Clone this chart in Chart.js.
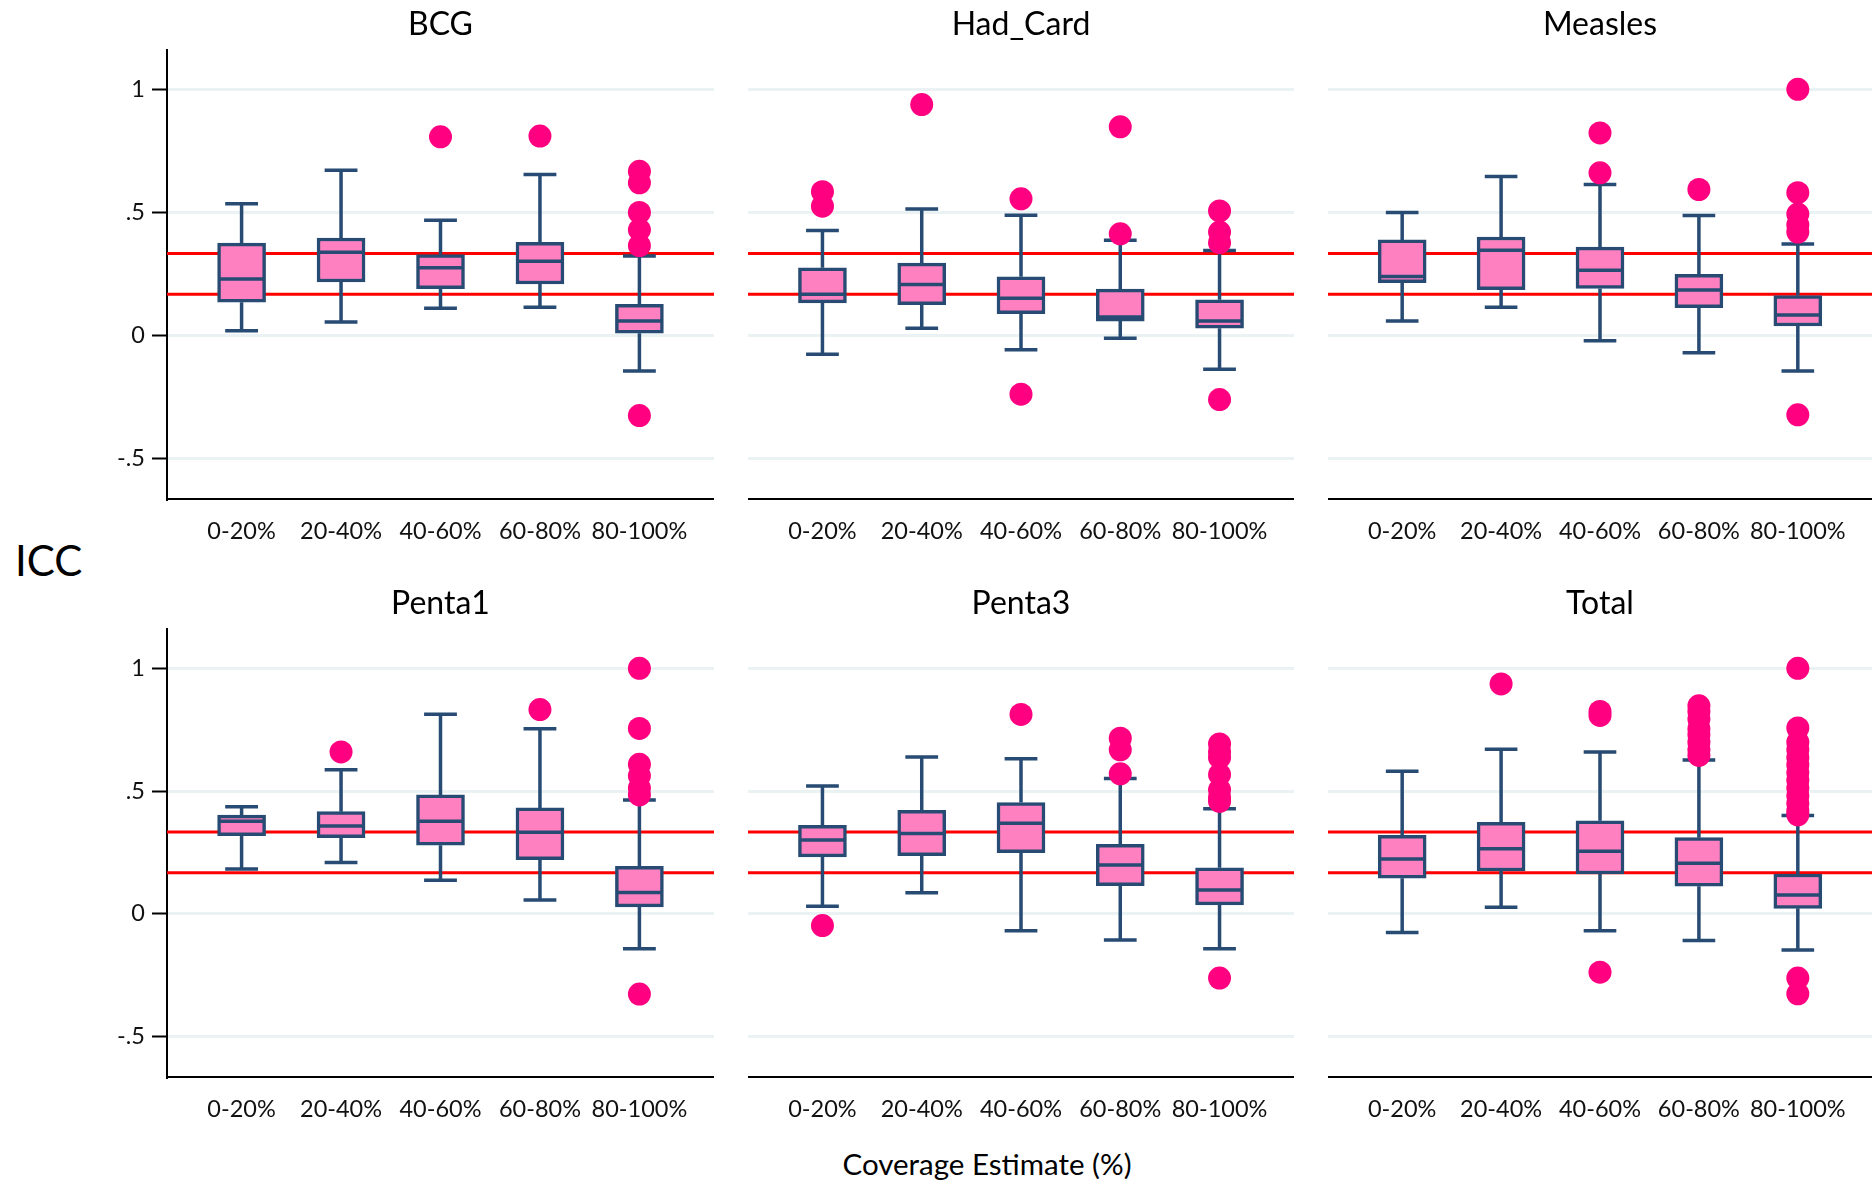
<!DOCTYPE html>
<html lang="en">
<head>
<meta charset="UTF-8" />
<title>ICC by coverage estimate</title>
<script src="https://cdn.jsdelivr.net/npm/chart.js@4.4.1/dist/chart.umd.min.js"></script>
<style>
    html, body { margin: 0; padding: 0; background: #fff; }
    body { width: 1872px; height: 1182px; position: relative; overflow: hidden; font-family: Lato, sans-serif; color: #000; }
    canvas { position: absolute; }
    .txt { position: absolute; line-height: 1; white-space: nowrap; }
    .title { font-size: 32px; transform: translateX(-50%); }
</style>
</head>
<body>
<div class="txt" style="left:15px; top:539px; font-size:42px;">ICC</div>
<div class="txt" style="left:987px; top:1149px; font-size:29.5px; transform:translateX(-50%);">Coverage Estimate (%)</div>
<script>
// ---- data ----
const categories  = ['0-20%', '20-40%', '40-60%', '60-80%', '80-100%'];
const panelTitles = ['BCG', 'Had_Card', 'Measles', 'Penta1', 'Penta3', 'Total'];
const yTicks      = [-0.5, 0, 0.5, 1];
const yTickLabels = ['-.5', '0', '.5', '1'];
const refLines    = [0.333, 0.167];

// one row per panel, one value per coverage category
const whiskerLow = [
    [0.019, 0.054, 0.11, 0.114, -0.145],
    [-0.077, 0.029, -0.058, -0.012, -0.138],
    [0.058, 0.114, -0.022, -0.071, -0.145],
    [0.182, 0.209, 0.136, 0.056, -0.143],
    [0.031, 0.086, -0.069, -0.107, -0.143],
    [-0.076, 0.026, -0.069, -0.109, -0.148]
];
const quart1 = [
    [0.135, 0.217, 0.19, 0.209, 0.009],
    [0.132, 0.125, 0.088, 0.058, 0.029],
    [0.214, 0.186, 0.191, 0.113, 0.038],
    [0.318, 0.31, 0.279, 0.22, 0.028],
    [0.232, 0.237, 0.249, 0.114, 0.036],
    [0.145, 0.174, 0.162, 0.112, 0.022]
];
const medians = [
    [0.229, 0.338, 0.275, 0.301, 0.058],
    [0.167, 0.207, 0.151, 0.075, 0.058],
    [0.239, 0.346, 0.265, 0.184, 0.083],
    [0.377, 0.357, 0.377, 0.332, 0.087],
    [0.3, 0.327, 0.369, 0.199, 0.097],
    [0.223, 0.265, 0.255, 0.206, 0.076]
];
const quart3 = [
    [0.375, 0.396, 0.328, 0.378, 0.126],
    [0.275, 0.294, 0.238, 0.188, 0.145],
    [0.388, 0.4, 0.359, 0.248, 0.162],
    [0.402, 0.416, 0.484, 0.431, 0.193],
    [0.36, 0.421, 0.453, 0.283, 0.187],
    [0.319, 0.372, 0.379, 0.31, 0.162]
];
const whiskerHigh = [
    [0.535, 0.671, 0.468, 0.654, 0.323],
    [0.426, 0.514, 0.488, 0.387, 0.345],
    [0.499, 0.646, 0.613, 0.487, 0.371],
    [0.436, 0.587, 0.813, 0.754, 0.463],
    [0.52, 0.639, 0.631, 0.551, 0.428],
    [0.581, 0.67, 0.659, 0.626, 0.4]
];
const outliers = [
    [[], [], [0.807], [0.81], [0.667, 0.62, 0.5, 0.429, 0.365, -0.326]],
    [[0.584, 0.525], [0.938], [0.555, -0.239], [0.848, 0.413], [0.506, 0.42, 0.377, -0.261]],
    [[], [], [0.823, 0.661], [0.593], [1.0, 0.58, 0.493, 0.449, 0.42, -0.323]],
    [[], [0.659], [], [0.832], [1.0, 0.755, 0.609, 0.562, 0.512, 0.484, -0.327]],
    [[-0.048], [], [0.812], [0.715, 0.668, 0.57], [0.692, 0.66, 0.637, 0.567, 0.505, 0.474, 0.458, -0.262]],
    [[], [0.936], [0.824, 0.808, -0.238], [0.847, 0.824, 0.793, 0.754, 0.73, 0.699, 0.668, 0.645],
     [1.0, 0.757, 0.699, 0.668, 0.637, 0.606, 0.575, 0.544, 0.512, 0.481, 0.45, 0.419, 0.403, -0.262, -0.326]]
];

// ---- layout / style ----
const colLeft = [167, 748, 1328], colRight = [714, 1294, 1872];
const rowTop = [50, 629], rowBottom = [499, 1077];
// top padding has to exceed the y labels' own padding or chart.js pushes the area down
const PAD_TOP = 30, X_AXIS_H = 70, Y_AXIS_W = 100;
const X_MIN = 0.25, X_MAX = 5.75, Y_MIN = -0.665, Y_MAX = 1.16;
const CAP = 0.165, MED = 0.235;
const NAVY = '#274B73', PINK = '#FF80C0', DOT = '#FF0080', RED = '#FF0000', GRID = '#EAF2F3';
const LW = 3.5;

Chart.defaults.font.family = 'Lato, sans-serif';

function makePanel(p) {
    const r = Math.floor(p / 3), c = p % 3;
    const isLeft = c === 0;
    const yw = isLeft ? Y_AXIS_W : 0;
    const left = colLeft[c] - yw;
    const top = rowTop[r] - PAD_TOP;
    const width = colRight[c] - left;
    const height = rowBottom[r] - rowTop[r] + PAD_TOP + X_AXIS_H;

    const cv = document.createElement('canvas');
    cv.width = width; cv.height = height;
    cv.style.left = left + 'px'; cv.style.top = top + 'px';
    document.body.appendChild(cv);

    const t = document.createElement('div');
    t.className = 'txt title';
    t.textContent = panelTitles[p];
    t.style.left = ((colLeft[c] + colRight[c]) / 2) + 'px';
    t.style.top = (r === 0 ? 7 : 586) + 'px';
    document.body.appendChild(t);

    const refData = [];
    refLines.forEach(v => refData.push({x: X_MIN, y: v}, {x: X_MAX, y: v}, {x: X_MAX, y: null}));

    const whisk = [], meds = [], boxes = [], dots = [];
    categories.forEach((cat, i) => {
        const x = i + 1;
        const lo = whiskerLow[p][i], hi = whiskerHigh[p][i];
        whisk.push({x, y: quart3[p][i]}, {x, y: hi}, {x, y: null},
                   {x: x - CAP, y: hi}, {x: x + CAP, y: hi}, {x, y: null},
                   {x, y: quart1[p][i]}, {x, y: lo}, {x, y: null},
                   {x: x - CAP, y: lo}, {x: x + CAP, y: lo}, {x, y: null});
        meds.push({x: x - MED, y: medians[p][i]}, {x: x + MED, y: medians[p][i]}, {x, y: null});
        boxes.push({x, y: [quart1[p][i], quart3[p][i]]});
        outliers[p][i].forEach(v => dots.push({x, y: v}));
    });

    new Chart(cv, {
        type: 'bar',
        data: {
            datasets: [
                { type: 'line', data: refData, borderColor: RED, borderWidth: 3, pointRadius: 0, spanGaps: false, order: 5 },
                { type: 'line', data: whisk, borderColor: NAVY, borderWidth: LW, pointRadius: 0, spanGaps: false, order: 4 },
                { type: 'bar', data: boxes, backgroundColor: PINK, borderColor: NAVY, borderWidth: LW,
                  borderSkipped: false, barThickness: 48, grouped: false, order: 3 },
                { type: 'line', data: meds, borderColor: NAVY, borderWidth: LW, pointRadius: 0, spanGaps: false, order: 2 },
                { type: 'scatter', data: dots, backgroundColor: DOT, borderWidth: 0, pointRadius: 11.5, order: 1 }
            ]
        },
        options: {
            responsive: false,
            animation: false,
            events: [],
            layout: { autoPadding: false, padding: { top: PAD_TOP, left: 0, right: 0, bottom: 0 } },
            plugins: { legend: { display: false }, tooltip: { enabled: false } },
            scales: {
                x: {
                    type: 'linear', min: X_MIN, max: X_MAX, offset: false,
                    grid: { display: false, offset: false },
                    border: { display: true, color: '#000', width: 2 },
                    afterBuildTicks: s => { s.ticks = categories.map((cat, i) => ({value: i + 1})); },
                    afterFit: s => { s.height = X_AXIS_H; },
                    ticks: { callback: v => categories[v - 1], font: { size: 23.5 }, color: '#111',
                             padding: 10, maxRotation: 0, autoSkip: false }
                },
                y: {
                    type: 'linear', min: Y_MIN, max: Y_MAX,
                    grid: { color: GRID, lineWidth: 3, drawTicks: isLeft, tickLength: 15, tickColor: '#000', tickWidth: 2 },
                    border: { display: isLeft, color: '#000', width: 2 },
                    afterBuildTicks: s => { s.ticks = yTicks.map(v => ({value: v})); },
                    afterFit: s => { s.width = yw; },
                    ticks: { display: isLeft, callback: v => yTickLabels[yTicks.indexOf(v)],
                             padding: 7, font: { size: 23.5 }, color: '#111' }
                }
            }
        }
    });
}

panelTitles.forEach((name, p) => makePanel(p));
</script>
</body>
</html>
